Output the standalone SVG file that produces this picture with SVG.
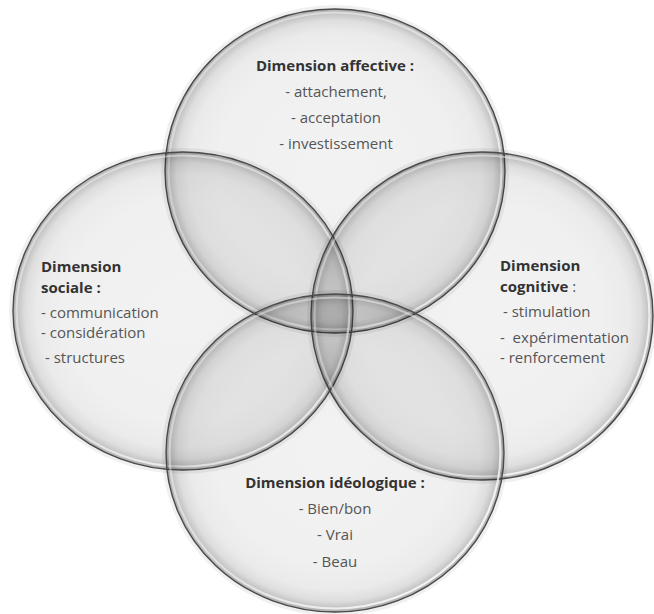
<svg xmlns="http://www.w3.org/2000/svg" width="654" height="614" viewBox="0 0 654 614">
<defs>
<radialGradient id="shade" cx="0.5" cy="0.5" r="0.5">
<stop offset="0" stop-color="#000" stop-opacity="0.05"/>
<stop offset="0.7" stop-color="#000" stop-opacity="0.06"/>
<stop offset="0.86" stop-color="#000" stop-opacity="0.08"/>
<stop offset="0.93" stop-color="#000" stop-opacity="0.13"/>
<stop offset="0.98" stop-color="#000" stop-opacity="0.25"/>
<stop offset="1" stop-color="#000" stop-opacity="0.32"/>
</radialGradient>
<linearGradient id="rim" x1="0" y1="0" x2="1" y2="1">
<stop offset="0" stop-color="#fff" stop-opacity="0.35"/>
<stop offset="0.5" stop-color="#fff" stop-opacity="0.5"/>
<stop offset="1" stop-color="#fff" stop-opacity="0.95"/>
</linearGradient>
</defs>
<style>
.disc{fill:url(#shade);stroke:#4a4a4a;stroke-width:1.4}
.halo{fill:none;stroke:#000;stroke-opacity:0.06;stroke-width:4}
.rim{fill:none;stroke:url(#rim);stroke-width:2.2}
text{font-family:"Open Sans","Noto Sans","DejaVu Sans",sans-serif;font-size:15px;fill:#555}
.h{font-weight:bold;fill:#333}
.c{text-anchor:middle}
</style>
<rect width="654" height="614" fill="#fff"/>
<g id="node-affective">
<ellipse class="halo" cx="335" cy="171" rx="172" ry="164"/>
<ellipse class="disc" cx="335" cy="171" rx="170" ry="162"/>
<ellipse class="rim" cx="335" cy="171" rx="166.5" ry="158.5"/>
</g>
<g id="node-sociale">
<ellipse class="halo" cx="183" cy="311" rx="172" ry="161"/>
<ellipse class="disc" cx="183" cy="311" rx="170" ry="159"/>
<ellipse class="rim" cx="183" cy="311" rx="166.5" ry="155.5"/>
</g>
<g id="node-cognitive">
<ellipse class="halo" cx="482" cy="316" rx="173" ry="166"/>
<ellipse class="disc" cx="482" cy="316" rx="171" ry="164"/>
<ellipse class="rim" cx="482" cy="316" rx="167.5" ry="160.5"/>
</g>
<g id="node-ideologique">
<ellipse class="halo" cx="335" cy="453" rx="171" ry="161"/>
<ellipse class="disc" cx="335" cy="453" rx="169" ry="159"/>
<ellipse class="rim" cx="335" cy="453" rx="165.5" ry="155.5"/>
</g>
<g id="labels">
<g id="label-affective">
<text class="h c" x="335" y="71">Dimension affective :</text>
<text class="c" x="336" y="97">- attachement,</text>
<text class="c" x="336" y="123">- acceptation</text>
<text class="c" x="336" y="149">- investissement</text>
</g>
<g id="label-sociale">
<text class="h" x="41" y="272">Dimension</text>
<text class="h" x="41" y="293">sociale :</text>
<text x="41" y="318">- communication</text>
<text x="41" y="338">- considération</text>
<text x="45" y="363">- structures</text>
</g>
<g id="label-cognitive">
<text class="h" x="500" y="271">Dimension</text>
<text x="500" y="292"><tspan class="h">cognitive</tspan> :</text>
<text x="503" y="317">- stimulation</text>
<text x="500" y="343" xml:space="preserve">-  expérimentation</text>
<text x="500" y="363">- renforcement</text>
</g>
<g id="label-ideologique">
<text class="h c" x="335" y="488">Dimension idéologique :</text>
<text class="c" x="335" y="514">- Bien/bon</text>
<text class="c" x="335" y="540">- Vrai</text>
<text class="c" x="335" y="567">- Beau</text>
</g>
</g>
<g id="connectors"/>
</svg>
